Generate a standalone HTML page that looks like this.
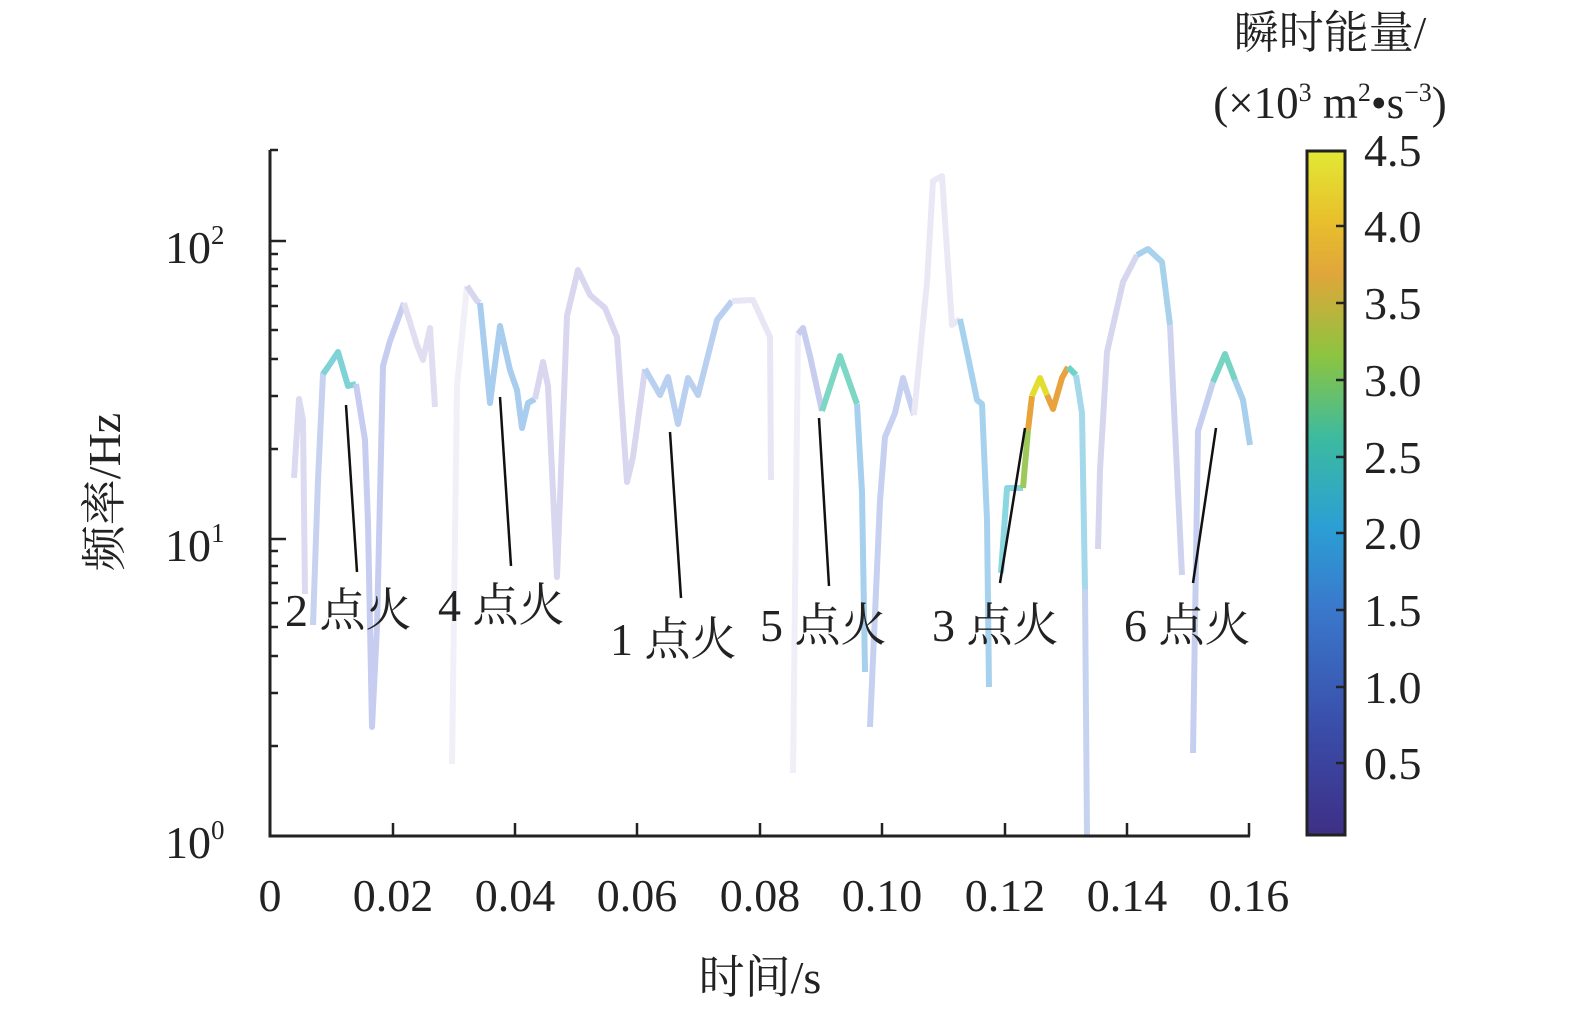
<!DOCTYPE html>
<html><head><meta charset="utf-8"><style>
html,body{margin:0;padding:0;background:#fff;overflow:hidden}
svg{display:block}
svg text{font-family:"Liberation Serif","Times New Roman","Noto Serif CJK SC",serif;fill:#222}
</style></head><body>
<svg width="1575" height="1020" viewBox="0 0 1575 1020" xmlns="http://www.w3.org/2000/svg" font-family="Liberation Serif, Noto Serif CJK SC, serif">
<defs>
<linearGradient id="cb" x1="0" y1="1" x2="0" y2="0">
<stop offset="0" stop-color="#3e2f86"/><stop offset="0.15" stop-color="#3a4ca8"/><stop offset="0.33" stop-color="#3a78cc"/><stop offset="0.45" stop-color="#2b9fd4"/><stop offset="0.58" stop-color="#3cbba0"/><stop offset="0.7" stop-color="#8cc440"/><stop offset="0.82" stop-color="#e0a63a"/><stop offset="0.9" stop-color="#e8c02c"/><stop offset="1" stop-color="#e2e835"/>
</linearGradient>
</defs>
<g fill="none" stroke-width="6" stroke-linejoin="round" stroke-linecap="butt">
<polyline stroke="#dcdaf0" points="294,478 299,399 303,420 305,594"/>
<polyline stroke="#c7d2f0" points="313,625 318,480 323,374 328,367"/>
<polyline stroke="#7fd3d6" points="323,374 328,367 338,352 348,386 356,384"/>
<polyline stroke="#c6cdf0" points="356,384 365,440 368,523 372,727 377,627 383,366 390,341 404,303"/>
<polyline stroke="#e2def2" points="404,303 417,345 423,360 430,328 435,407"/>
<polyline stroke="#f1f0f8" points="452,764 457,386 467,286"/>
<polyline stroke="#d8d6ef" points="467,286 477,301 480,303"/>
<polyline stroke="#a9cdee" points="480,303 490,403 500,326 510,370 517,390 522,428 528,403 535,399"/>
<polyline stroke="#d9d6ef" points="535,399 543,362 548,386 557,577 567,316 578,270 590,295 605,308 617,337 627,482 633,457 645,369"/>
<polyline stroke="#b9d0f0" points="645,369 660,395 668,377 678,424 688,378 698,395 717,320 732,301"/>
<polyline stroke="#e8e6f4" points="732,301 753,300 770,337 771,480"/>
<polyline stroke="#f0eff8" points="793,773 798,334"/>
<polyline stroke="#c8cdef" points="798,334 803,328 810,356 822,411"/>
<polyline stroke="#7ed6c4" points="822,411 840,356 857,404"/>
<polyline stroke="#a6d0ee" points="857,404 862,492 865,672"/>
<polyline stroke="#c6d0f0" points="870,727 880,501 885,437 895,413 903,378 914,415"/>
<polyline stroke="#ebe8f5" points="914,415 927,282 933,181 942,176 952,325 960,319"/>
<polyline stroke="#a7d2ee" points="960,319 967,352 977,400 982,404 987,520 989,687"/>
<polyline stroke="#8ad7e2" points="1001,573 1007,488 1023,488"/>
<polyline stroke="#9dc95a" points="1023,488 1028,430"/>
<polyline stroke="#e7a43c" points="1028,430 1032,396"/>
<polyline stroke="#e2de30" points="1032,396 1040,378 1047,395"/>
<polyline stroke="#e9a33e" points="1047,395 1053,409 1062,378 1068,367"/>
<polyline stroke="#6fd4c6" points="1068,367 1076,375"/>
<polyline stroke="#a4d8ea" points="1076,375 1082,413 1085,589"/>
<polyline stroke="#c6d3f0" points="1085,589 1087,836"/>
<polyline stroke="#d6d6ef" points="1098,549 1100,470 1107,352 1123,282 1137,255"/>
<polyline stroke="#a8d2ec" points="1137,255 1148,249 1162,262 1170,325"/>
<polyline stroke="#d0d3ef" points="1170,325 1182,575"/>
<polyline stroke="#c7cff0" points="1193,753 1198,431 1213,382"/>
<polyline stroke="#78d4c2" points="1213,382 1225,354 1235,380"/>
<polyline stroke="#a8d0ec" points="1235,380 1243,400 1250,445"/>
</g>
<g stroke="#111" stroke-width="2.5">
<line x1="346" y1="405" x2="357" y2="572"/>
<line x1="500" y1="397" x2="511" y2="566"/>
<line x1="670" y1="432" x2="681" y2="598"/>
<line x1="819" y1="418" x2="829" y2="586"/>
<line x1="1025" y1="428" x2="1000" y2="583"/>
<line x1="1216" y1="428" x2="1193" y2="583"/>
</g>
<g font-size="46">
<text x="285" y="626">2 点火</text>
<text x="438" y="621">4 点火</text>
<text x="610" y="655">1 点火</text>
<text x="760" y="641">5 点火</text>
<text x="932" y="641">3 点火</text>
<text x="1124" y="641">6 点火</text>
</g>
<g stroke="#222" stroke-width="3" fill="none">
<polyline points="270,150 270,836 1250,836"/>
</g>
<g stroke="#222" stroke-width="2.5">
<line x1="270" y1="241" x2="286" y2="241"/><line x1="270" y1="539" x2="286" y2="539"/>
<line x1="270" y1="150" x2="278" y2="150"/>
<line x1="270" y1="746" x2="278" y2="746"/><line x1="270" y1="693" x2="278" y2="693"/><line x1="270" y1="656" x2="278" y2="656"/><line x1="270" y1="627" x2="278" y2="627"/><line x1="270" y1="603" x2="278" y2="603"/><line x1="270" y1="583" x2="278" y2="583"/><line x1="270" y1="566" x2="278" y2="566"/><line x1="270" y1="551" x2="278" y2="551"/>
<line x1="270" y1="449" x2="278" y2="449"/><line x1="270" y1="396" x2="278" y2="396"/><line x1="270" y1="359" x2="278" y2="359"/><line x1="270" y1="330" x2="278" y2="330"/><line x1="270" y1="306" x2="278" y2="306"/><line x1="270" y1="286" x2="278" y2="286"/><line x1="270" y1="269" x2="278" y2="269"/><line x1="270" y1="254" x2="278" y2="254"/>
<line x1="393" y1="836" x2="393" y2="823"/><line x1="515" y1="836" x2="515" y2="823"/><line x1="637" y1="836" x2="637" y2="823"/><line x1="760" y1="836" x2="760" y2="823"/><line x1="882" y1="836" x2="882" y2="823"/><line x1="1005" y1="836" x2="1005" y2="823"/><line x1="1127" y1="836" x2="1127" y2="823"/><line x1="1249" y1="836" x2="1249" y2="823"/>
</g>
<g font-size="46" text-anchor="middle">
<text x="270" y="911">0</text><text x="393" y="911">0.02</text><text x="515" y="911">0.04</text><text x="637" y="911">0.06</text><text x="760" y="911">0.08</text><text x="882" y="911">0.10</text><text x="1005" y="911">0.12</text><text x="1127" y="911">0.14</text><text x="1249" y="911">0.16</text>
<text x="760" y="993">时间/s</text>
</g>
<g font-size="46">
<text x="165" y="263">10<tspan font-size="27" dy="-19">2</tspan></text>
<text x="165" y="561">10<tspan font-size="27" dy="-19">1</tspan></text>
<text x="165" y="858">10<tspan font-size="27" dy="-19">0</tspan></text>
</g>
<text font-size="46" text-anchor="middle" transform="translate(120,492) rotate(-90)">频率/Hz</text>
<rect x="1307" y="151" width="38" height="684" fill="url(#cb)" stroke="#222" stroke-width="3"/>
<g stroke="#222" stroke-width="2.5">
<line x1="1336" y1="226" x2="1346" y2="226"/><line x1="1336" y1="303" x2="1346" y2="303"/><line x1="1336" y1="380" x2="1346" y2="380"/><line x1="1336" y1="457" x2="1346" y2="457"/><line x1="1336" y1="533" x2="1346" y2="533"/><line x1="1336" y1="610" x2="1346" y2="610"/><line x1="1336" y1="687" x2="1346" y2="687"/><line x1="1336" y1="763" x2="1346" y2="763"/>
</g>
<g font-size="46">
<text x="1364" y="166">4.5</text><text x="1364" y="242">4.0</text><text x="1364" y="319">3.5</text><text x="1364" y="396">3.0</text><text x="1364" y="473">2.5</text><text x="1364" y="549">2.0</text><text x="1364" y="626">1.5</text><text x="1364" y="703">1.0</text><text x="1364" y="779">0.5</text>
</g>
<g font-size="45" text-anchor="middle">
<text x="1330" y="48">瞬时能量/</text>
<text x="1330" y="118">(×10<tspan font-size="26" dy="-17">3</tspan><tspan dy="17"> m</tspan><tspan font-size="26" dy="-17">2</tspan><tspan dy="17">•s</tspan><tspan font-size="26" dy="-17">−3</tspan><tspan dy="17">)</tspan></text>
</g>
</svg>
</body></html>
